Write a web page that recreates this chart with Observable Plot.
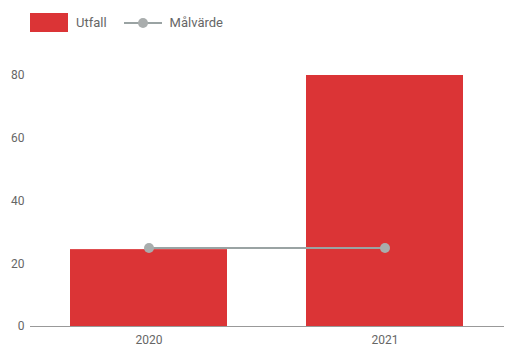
<!DOCTYPE html>
<html><head><meta charset="utf-8">
<script src="https://cdn.jsdelivr.net/npm/d3@7"></script>
<script src="https://cdn.jsdelivr.net/npm/@observablehq/plot@0.6"></script>
<style>
body{margin:0;background:#fff;font-family:Roboto,sans-serif;}
#wrap{position:relative;width:529px;height:352px;overflow:hidden;}
#legend{position:absolute;left:30px;top:13px;display:flex;align-items:center;font-size:13px;color:#666;}
.sw{width:38px;height:19px;background:#db3436;margin-right:8px;}
.ln{position:relative;width:38px;height:19px;margin:0 8px 0 17px;}
.ln:before{content:"";position:absolute;left:0;right:0;top:9px;height:2px;background:#9aa3a3;}
.ln:after{content:"";position:absolute;left:14px;top:5px;width:10px;height:10px;border-radius:50%;background:#a9adad;}
</style></head>
<body><div id="wrap"><div id="legend"><div class="sw"></div><span>Utfall</span><div class="ln"></div><span>Målvärde</span></div><div id="chart"></div></div>
<script>
const years = ["2020", "2021"];
const utfall = [24.5, 80];
const malvarde = [25, 25];
const yTicks = [0, 20, 40, 60, 80];
const data = years.map((y, i) => ({year: y, utfall: utfall[i], mal: malvarde[i]}));
const chart = Plot.plot({
  width: 529, height: 352,
  marginLeft: 30, marginRight: 25, marginTop: 75, marginBottom: 26,
  style: {fontFamily: "Roboto, sans-serif", fontSize: "12px", color: "#666", background: "#fff"},
  x: {domain: years, paddingInner: 0.333, paddingOuter: 0.1667, label: null, tickSize: 0, tickPadding: 9},
  y: {domain: [0, 80], ticks: yTicks, label: null, tickSize: 0, tickPadding: 6},
  marks: [
    Plot.barY(data, {x: "year", y: "utfall", fill: "#db3436"}),
    Plot.ruleY([0], {stroke: "#999", strokeWidth: 1}),
    Plot.line(data, {x: "year", y: "mal", stroke: "#9aa3a3", strokeWidth: 2}),
    Plot.dot(data, {x: "year", y: "mal", r: 5, fill: "#a9adad", stroke: "none"})
  ]
});
document.getElementById("chart").appendChild(chart);
</script></body></html>
